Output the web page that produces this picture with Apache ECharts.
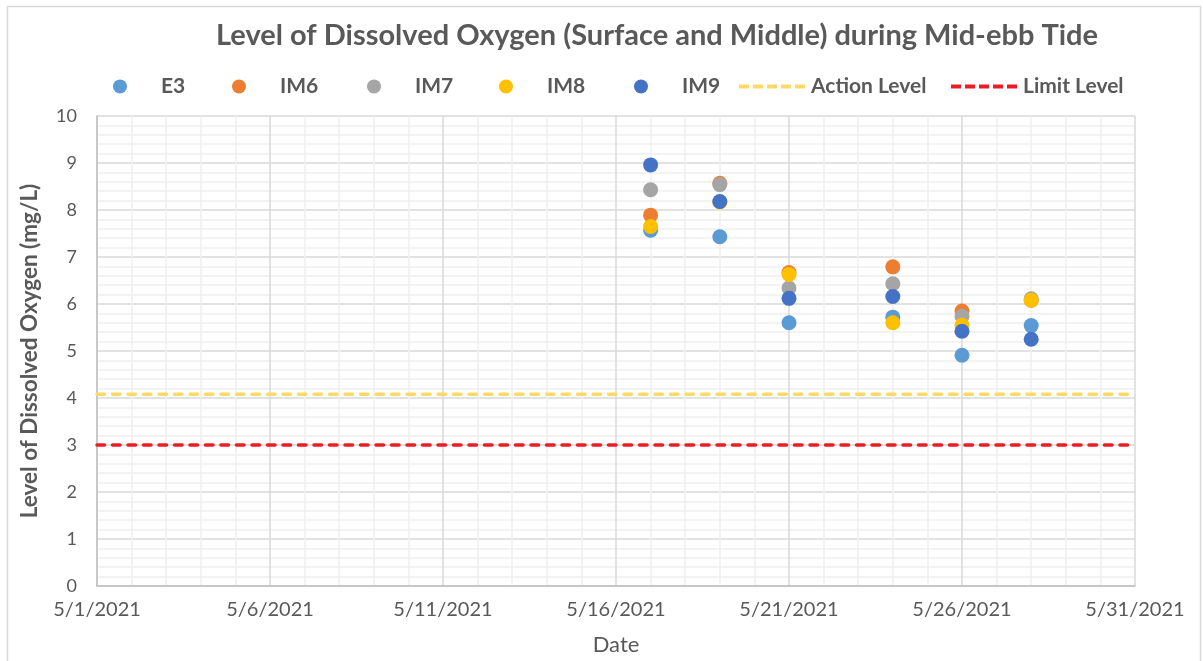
<!DOCTYPE html>
<html>
<head>
    <meta charset="utf-8">
    <title>Dissolved Oxygen</title>
    <style>
        html, body { margin: 0; padding: 0; background: #fff; }
        #chart { width: 1203px; height: 661px; }
    </style>
</head>
<body>
    <div id="chart"></div>
    <script src="https://cdn.jsdelivr.net/npm/echarts@6/dist/echarts.min.js"></script>
    <script>
        // sampling dates
        const dates = ['5/17/2021', '5/19/2021', '5/21/2021', '5/24/2021', '5/26/2021', '5/28/2021'];

        // dissolved oxygen (mg/L) per station
        const E3 = [7.57, 7.43, 5.60, 5.72, 4.91, 5.54];
        const IM6 = [7.89, 8.57, 6.67, 6.79, 5.85, 6.08];
        const IM7 = [8.43, 8.54, 6.34, 6.43, 5.74, 6.11];
        const IM8 = [7.65, 8.17, 6.63, 5.60, 5.55, 6.08];
        const IM9 = [8.96, 8.18, 6.12, 6.16, 5.42, 5.25];

        const actionLevel = 4.08;
        const limitLevel = 3;

        // x axis = day of May 2021
        const dayMin = 1, dayMax = 31;

        const chart = echarts.init(document.getElementById('chart'));
        const font = 'Lato';
        const grey = '#595959';

        const day = d => Number(d.split('/')[1]);
        const pts = arr => dates.map((d, i) => [day(d), arr[i]]);

        const stations = [
            { name: 'E3', data: E3, color: '#5B9BD5' },
            { name: 'IM6', data: IM6, color: '#ED7D31' },
            { name: 'IM7', data: IM7, color: '#A5A5A5' },
            { name: 'IM8', data: IM8, color: '#FFC000' },
            { name: 'IM9', data: IM9, color: '#4472C4' }
        ];

        const series = stations.map(s => ({
            name: s.name,
            type: 'scatter',
            symbolSize: 15,
            itemStyle: { color: s.color, opacity: 1 },
            data: pts(s.data)
        }));
        series.push({
            name: 'Action Level',
            type: 'line',
            symbol: 'none',
            lineStyle: { color: '#FFD966', width: 3.5, type: [7.5, 8], cap: 'round' },
            itemStyle: { color: '#FFD966' },
            data: [[dayMin, actionLevel], [dayMax, actionLevel]]
        });
        series.push({
            name: 'Limit Level',
            type: 'line',
            symbol: 'none',
            lineStyle: { color: '#EE1C25', width: 3.5, type: [7.5, 8], cap: 'round' },
            itemStyle: { color: '#EE1C25' },
            data: [[dayMin, limitLevel], [dayMax, limitLevel]]
        });

        // dashed legend icon for the two threshold lines
        let dashPath = 'path://';
        for (let x = 0; x < 68; x += 14) dashPath += 'M' + x + ',0h10v4h-10z';

        // legend entries, positioned one by one like the Excel legend
        const legendPos = [113, 232, 367, 499, 634, 739, 951];
        const legends = series.map((s, i) => {
            const isLine = s.type === 'line';
            return {
                left: legendPos[i],
                top: 76,
                padding: 0,
                data: [s.name],
                icon: isLine ? dashPath : 'circle',
                itemWidth: isLine ? 68 : 14,
                itemHeight: isLine ? 4 : 14,
                itemGap: 0,
                selectedMode: false,
                textStyle: {
                    fontFamily: font, fontSize: 21, fontWeight: 'bold', color: grey,
                    padding: isLine ? [0, 0, 0, 0] : [0, 0, 0, 29]
                }
            };
        });

        chart.setOption({
            animation: false,
            backgroundColor: '#fff',
            title: {
                text: 'Level of Dissolved Oxygen (Surface and Middle) during Mid-ebb Tide',
                left: 657,
                top: 21,
                padding: 0,
                textAlign: 'center',
                textStyle: { fontFamily: font, fontSize: 29, fontWeight: 'bold', color: grey }
            },
            graphic: [{
                type: 'rect',
                shape: { x: 7.5, y: 6.5, width: 1193, height: 670 },
                style: { fill: 'none', stroke: '#d9d9d9', lineWidth: 1.5 },
                silent: true
            }],
            legend: legends,
            grid: { left: 97, right: 68, top: 116, bottom: 74 },
            xAxis: {
                type: 'value',
                min: dayMin,
                max: dayMax,
                interval: 5,
                name: 'Date',
                nameLocation: 'middle',
                nameGap: 48,
                nameTextStyle: { fontFamily: font, fontSize: 22, color: grey },
                axisLine: { show: true, lineStyle: { color: '#bfbfbf', width: 1.5 } },
                axisTick: { show: false },
                minorTick: { show: false, splitNumber: 5 },
                splitLine: { show: true, lineStyle: { color: '#d9d9d9', width: 1.5 } },
                minorSplitLine: { show: true, lineStyle: { color: '#f0f0f0', width: 1.5 } },
                axisLabel: {
                    fontFamily: font, fontSize: 20, color: grey, margin: 14,
                    formatter: v => '5/' + v + '/2021'
                }
            },
            yAxis: {
                type: 'value',
                min: 0,
                max: 10,
                interval: 1,
                name: 'Level of Dissolved Oxygen (mg/L)',
                nameLocation: 'middle',
                nameGap: 56,
                nameTextStyle: { fontFamily: font, fontSize: 22.5, fontWeight: 'bold', color: grey },
                axisLine: { show: true, lineStyle: { color: '#bfbfbf', width: 1.5 } },
                axisTick: { show: false },
                minorTick: { show: false, splitNumber: 5 },
                splitLine: { show: true, lineStyle: { color: '#d9d9d9', width: 1.5 } },
                minorSplitLine: { show: true, lineStyle: { color: '#f0f0f0', width: 1.5 } },
                axisLabel: { fontFamily: font, fontSize: 18, color: grey, margin: 20 }
            },
            series: series
        });
    </script>
</body>
</html>
